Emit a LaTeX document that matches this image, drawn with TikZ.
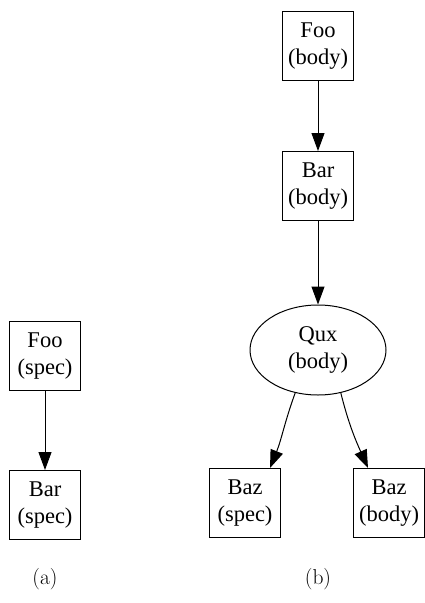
\documentclass[tikz,border=0pt]{standalone}
\usepackage{fontspec}
\usetikzlibrary{arrows.meta,shapes.geometric}
\newfontfamily\nodefont{Liberation Serif}
\begin{document}
\begin{tikzpicture}[x=1pt,y=-1pt,
  boxnode/.style={draw,line width=1pt,rectangle,minimum width=71pt,minimum height=69pt,
    inner sep=0pt,align=center,font=\nodefont\fontsize{22.5}{27}\selectfont},
  ovalnode/.style={draw,line width=1pt,ellipse,minimum width=136pt,minimum height=90pt,
    inner sep=0pt,align=center,font=\nodefont\fontsize{22.5}{27}\selectfont},
  edge/.style={line width=1pt,-{Triangle[length=18pt,width=13pt]}},
  caption/.style={font=\fontsize{21.5}{25}\selectfont}]
\useasboundingbox (0,0) rectangle (425,603);
% (a): spec dependencies
\node[boxnode] (foos) at (45,356) {Foo\\(spec)};
\node[boxnode] (bars) at (45,505) {Bar\\(spec)};
\draw[edge] (foos) -- (bars);
% (b): body dependencies
\node[boxnode] (foob) at (318,46) {Foo\\(body)};
\node[boxnode] (barb) at (318,186) {Bar\\(body)};
\node[ovalnode] (quxb) at (318,350) {Qux\\(body)};
\node[boxnode] (bazs) at (245,503) {Baz\\(spec)};
\node[boxnode] (bazb) at (389,503) {Baz\\(body)};
\draw[edge] (foob) -- (barb);
\draw[edge] (barb) -- (quxb);
\draw[edge] (quxb.-118) to[out=-110,in=68] ([xshift=25pt]bazs.north);
\draw[edge] (quxb.-62) to[out=-76,in=114] ([xshift=-21pt]bazb.north);
% captions
\node[caption] (capa) at (45,579) {(a)};
\node[caption] (capb) at (318,579) {(b)};
\end{tikzpicture}
\end{document}
